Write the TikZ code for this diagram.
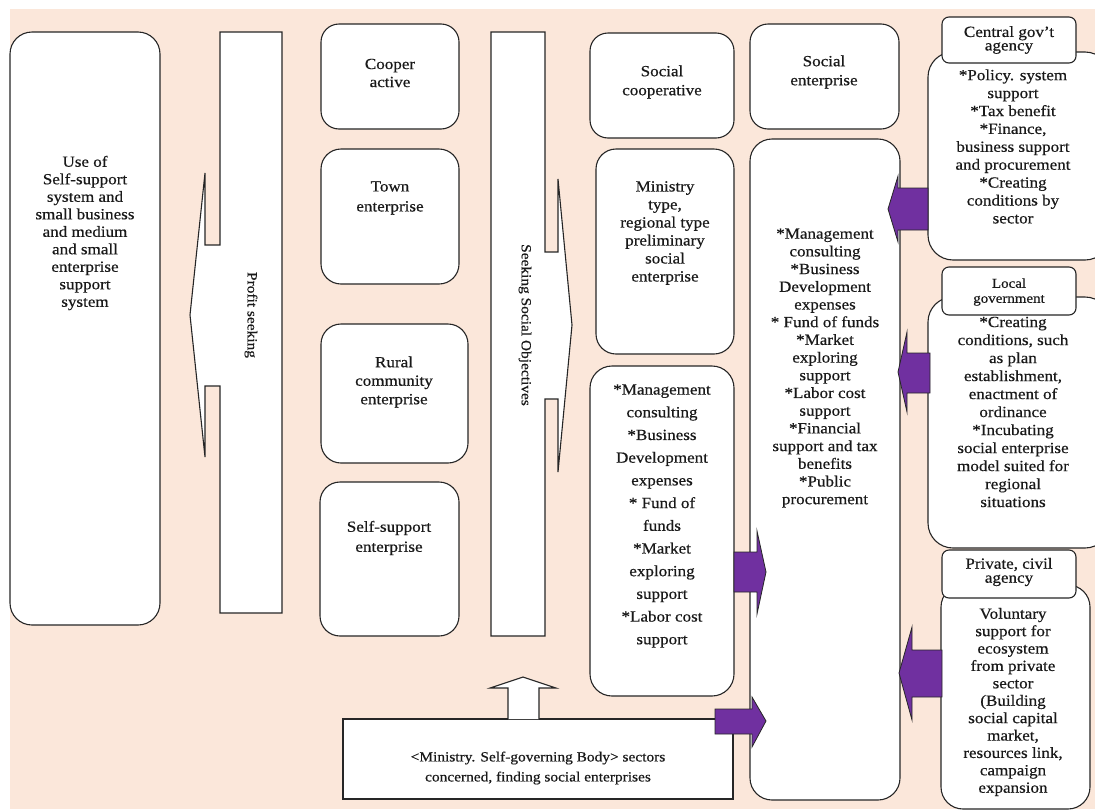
\documentclass[tikz,border=0pt]{standalone}
\usepackage{fontspec}
\setmainfont[FakeStretch=1.1, FakeBold=0.5]{Liberation Serif}
\definecolor{peach}{RGB}{251,231,218}
\definecolor{purp}{RGB}{112,48,160}
\newcommand\fsz[2]{\fontsize{#1}{#2}\selectfont}
\tikzset{
  box/.style={draw=black!85, fill=white, line width=1.1pt, inner sep=0pt, outer sep=0pt},
  txt/.style={align=center, inner sep=0pt, text=black!90},
  parrow/.style={fill=purp, draw=black!85, line width=0.8pt, line join=miter},
  blockarrow/.style={fill=white, draw=black!85, line width=1.1pt, line join=miter},
}
\begin{document}
\begin{tikzpicture}[x=1pt,y=-1pt]
\useasboundingbox (0,0) rectangle (1095,809);
\fill[peach] (10,9) rectangle (1095,809);

% left column
\node[box, rounded corners=22pt, minimum width=150, minimum height=593] (useof) at (85,328.5) {};
\node[txt, font=\fsz{15.5}{17.5}] (useofT) at (85,233) {Use of\\Self-support\\system and\\small business\\and medium\\and small\\enterprise\\support\\system};

% profit seeking arrow
\path[blockarrow] (220,32) -- (282,32) -- (282,613) -- (220,613) -- (220,386) -- (205,386) -- (205,457) -- (190,315) -- (205,173) -- (205,245) -- (220,245) -- cycle;
\node[txt, font=\fsz{14}{16}, rotate=-90] (profitT) at (251,315) {Profit seeking};

% enterprises column
\node[box, rounded corners=18pt, minimum width=138, minimum height=105] (coop) at (390,76.5) {};
\node[txt, font=\fsz{15.5}{18}] (coopT) at (390,73) {Cooper\\active};
\node[box, rounded corners=20pt, minimum width=138, minimum height=135] (town) at (390,216.5) {};
\node[txt, font=\fsz{15.5}{20}] (townT) at (390,198) {Town\\enterprise};
\node[box, rounded corners=20pt, minimum width=147, minimum height=139] (rural) at (394.5,393.5) {};
\node[txt, font=\fsz{15.5}{18.5}] (ruralT) at (394,382) {Rural\\community\\enterprise};
\node[box, rounded corners=20pt, minimum width=139, minimum height=154] (selfsup) at (389.5,559) {};
\node[txt, font=\fsz{15.5}{20}] (selfT) at (389,538) {Self-support\\enterprise};

% social objectives arrow
\path[blockarrow] (491,32) -- (545,32) -- (545,252) -- (558,252) -- (558,179) -- (572,325) -- (558,472) -- (558,399) -- (545,399) -- (545,636) -- (491,636) -- cycle;
\node[txt, font=\fsz{14}{16}, rotate=-90] (socobjT) at (525,325) {Seeking Social Objectives};

% third column
\node[box, rounded corners=18pt, minimum width=144, minimum height=105] (scoop) at (662,85.5) {};
\node[txt, font=\fsz{15.5}{19}] (scoopT) at (662,82) {Social\\cooperative};
\node[box, rounded corners=20pt, minimum width=138, minimum height=205] (ministry) at (665,251.5) {};
\node[txt, font=\fsz{15.5}{18}] (minT) at (665,233) {Ministry\\type,\\regional type\\preliminary\\social\\enterprise};
\node[box, rounded corners=22pt, minimum width=144, minimum height=330] (lbul) at (662,531) {};
\node[txt, font=\fsz{15.5}{22.7}] (lbulT) at (662,516) {*Management\\consulting\\*Business\\Development\\expenses\\* Fund of\\funds\\*Market\\exploring\\support\\*Labor cost\\support};

% fourth column
\node[box, rounded corners=18pt, minimum width=149, minimum height=105] (socent) at (824.5,76.5) {};
\node[txt, font=\fsz{15.5}{19}] (socentT) at (824,72) {Social\\enterprise};
\node[box, rounded corners=22pt, minimum width=150, minimum height=661] (big) at (825,469.5) {};
\node[txt, font=\fsz{15.5}{17.7}] (bigT) at (825,368) {*Management\\consulting\\*Business\\Development\\expenses\\* Fund of funds\\*Market\\exploring\\support\\*Labor cost\\support\\*Financial\\support and tax\\benefits\\*Public\\procurement};

% bottom box
\node[box, minimum width=390, minimum height=80] (bottom) at (538,759) {};
\node[txt, font=\fsz{14}{20}] (botT) at (538,768) {<Ministry. Self-governing Body> sectors\\concerned, finding social enterprises};
\path[blockarrow] (508,719) -- (508,688) -- (490,688) -- (523,677) -- (556,688) -- (539,688) -- (539,719);

% right column: central government
\node[box, rounded corners=25pt, minimum width=182, minimum height=208] (cgb) at (1019,156) {};
\node[txt, font=\fsz{15.5}{17.9}] (cgbT) at (1013,146.5) {*Policy. system\\support\\*Tax benefit\\*Finance,\\business support\\and procurement\\*Creating\\conditions by\\sector};
\node[box, rounded corners=7pt, minimum width=134, minimum height=46] (cgh) at (1009,40) {};
\node[txt, font=\fsz{15.5}{13.5}] (cghT) at (1009,40) {Central gov{\char"0027}t\\agency};

% local government
\node[box, rounded corners=25pt, minimum width=182, minimum height=251] (lgb) at (1019,422.5) {};
\node[txt, font=\fsz{15.5}{18}] (lgbT) at (1013,412) {*Creating\\conditions, such\\as plan\\establishment,\\enactment of\\ordinance\\*Incubating\\social enterprise\\model suited for\\regional\\situations};
\node[box, rounded corners=7pt, minimum width=134, minimum height=48] (lgh) at (1009,291) {};
\node[txt, font=\fsz{13.6}{15}] (lghT) at (1009,292) {Local\\government};

% private, civil agency
\node[box, rounded corners=22pt, minimum width=149, minimum height=224] (pcb) at (1015.5,697) {};
\node[txt, font=\fsz{15.5}{17.4}] (pcbT) at (1013,702) {Voluntary\\support for\\ecosystem\\from private\\sector\\(Building\\social capital\\market,\\resources link,\\campaign\\expansion};
\node[box, rounded corners=7pt, minimum width=134, minimum height=48] (pch) at (1009,574) {};
\node[txt, font=\fsz{15.5}{14}] (pchT) at (1009,572) {Private, civil\\agency};

% purple arrows
\path[parrow] (734,552) -- (757,552) -- (757,531) -- (766,572) -- (757,614) -- (757,592) -- (734,592) -- cycle;
\path[parrow] (715,709) -- (752,709) -- (752,697) -- (766,721) -- (752,747) -- (752,734) -- (715,734) -- cycle;
\path[parrow] (928,188) -- (898,188) -- (898,176) -- (888,209) -- (898,242) -- (898,230) -- (928,230) -- cycle;
\path[parrow] (930,353) -- (907,353) -- (907,332) -- (898,372) -- (907,412) -- (907,393) -- (930,393) -- cycle;
\path[parrow] (942,650) -- (912,650) -- (912,627) -- (899,673) -- (912,720) -- (912,697) -- (942,697) -- cycle;
\end{tikzpicture}
\end{document}
